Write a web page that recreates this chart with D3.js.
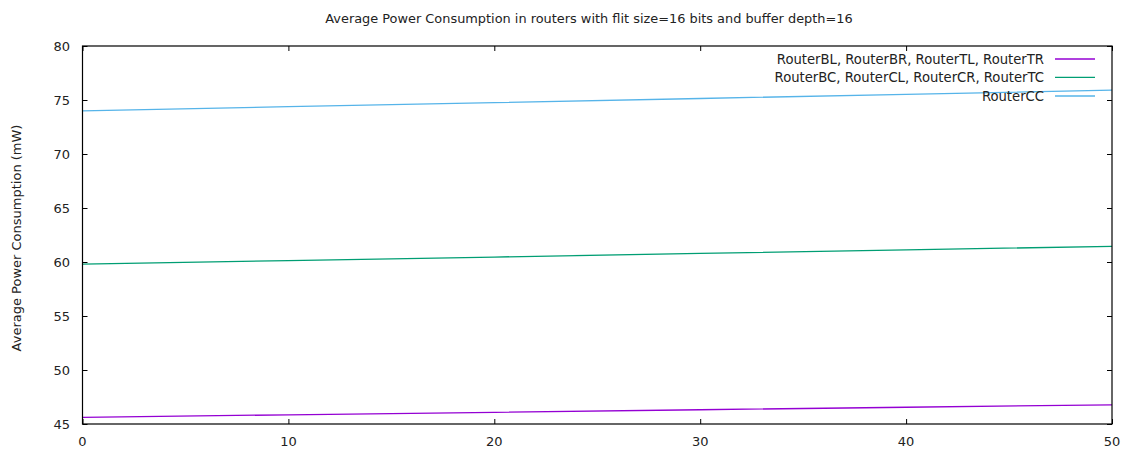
<!DOCTYPE html>
<html><head><meta charset="utf-8">
<script src="https://cdn.jsdelivr.net/npm/d3@7"></script>
<style>body{margin:0;background:#fff}svg{display:block}text{font-family:"DejaVu Sans",sans-serif;fill:#222}</style>
</head><body><svg id="c" width="1131" height="453"></svg>
<script>
const xValues = [0, 10, 20, 30, 40, 50];
const seriesNames = ["RouterBL, RouterBR, RouterTL, RouterTR", "RouterBC, RouterCL, RouterCR, RouterTC", "RouterCC"];
const cornerValues = [45.62, 45.85, 46.08, 46.32, 46.55, 46.78];
const edgeValues = [59.80, 60.13, 60.46, 60.79, 61.12, 61.45];
const centerValues = [74.00, 74.38, 74.76, 75.14, 75.52, 75.92];
const xTicks = [0, 10, 20, 30, 40, 50];
const yTicks = [45, 50, 55, 60, 65, 70, 75, 80];
const colors = ["#9400D3", "#009E73", "#56B4E9"];
const title = "Average Power Consumption in routers with flit size=16 bits and buffer depth=16";
const yLabel = "Average Power Consumption (mW)";

const svg = d3.select("#c");
const L = 82.5, R = 1112, T = 46, B = 424;
const x = d3.scaleLinear().domain([0, 50]).range([L, R]);
const y = d3.scaleLinear().domain([45, 80]).range([B, T]);

// ticks (inward, mirrored)
const g = svg.append("g");
const tk = 5;
g.append("g").attr("transform", `translate(0,${B})`)
  .call(d3.axisTop(x).tickValues(xTicks).tickSize(tk).tickFormat(""))
  .call(s => s.select(".domain").remove());
g.append("g").attr("transform", `translate(0,${T})`)
  .call(d3.axisBottom(x).tickValues(xTicks).tickSize(tk).tickFormat(""))
  .call(s => s.select(".domain").remove());
g.append("g").attr("transform", `translate(${L},0)`)
  .call(d3.axisRight(y).tickValues(yTicks).tickSize(tk).tickFormat(""))
  .call(s => s.select(".domain").remove());
g.append("g").attr("transform", `translate(${R},0)`)
  .call(d3.axisLeft(y).tickValues(yTicks).tickSize(tk).tickFormat(""))
  .call(s => s.select(".domain").remove());
g.selectAll(".tick line").attr("stroke", "#000").attr("stroke-width", 1);

// tick labels
svg.append("g").selectAll("text").data(xTicks).join("text")
  .attr("x", d => x(d)).attr("y", 446).attr("text-anchor", "middle")
  .attr("font-size", 13).text(d => d);
svg.append("g").selectAll("text").data(yTicks).join("text")
  .attr("x", 70).attr("y", d => y(d) + 5).attr("text-anchor", "end")
  .attr("font-size", 13).text(d => d);

// lines
const series = [cornerValues, edgeValues, centerValues];
const line = d3.line().x((d, i) => x(xValues[i])).y(d => y(d));
series.forEach((vals, i) => {
  svg.append("path").datum(vals).attr("d", line)
    .attr("fill", "none").attr("stroke", colors[i]).attr("stroke-width", 1.3);
});

// border
svg.append("rect").attr("x", L).attr("y", T).attr("width", R - L).attr("height", B - T)
  .attr("fill", "none").attr("stroke", "#000").attr("stroke-width", 1.2);

// legend
const ly = [59, 77.3, 96];
seriesNames.forEach((n, i) => {
  svg.append("text").attr("x", 1044).attr("y", ly[i] + 5).attr("text-anchor", "end")
    .attr("font-size", 13.2).text(n);
  svg.append("line").attr("x1", 1055).attr("x2", 1095).attr("y1", ly[i]).attr("y2", ly[i])
    .attr("stroke", colors[i]).attr("stroke-width", 1.3);
});

// title
svg.append("text").attr("x", 589).attr("y", 23).attr("text-anchor", "middle")
  .attr("font-size", 12.9).text(title);
// y label
svg.append("text").attr("transform", "translate(21,238) rotate(-90)")
  .attr("text-anchor", "middle").attr("font-size", 13).text(yLabel);
</script></body></html>
